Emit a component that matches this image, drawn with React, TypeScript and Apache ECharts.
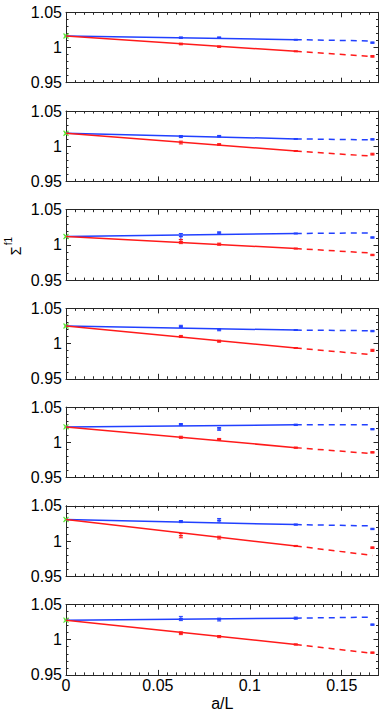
import React, { useEffect, useRef } from "react";
import * as echarts from "echarts";

// lattice spacings a/L
const xLattice = [0.0625, 0.0833, 0.125, 0.1667];
const xFitMid = 0.125;
const xFitEnd = 0.1667;

// continuum values at a/L = 0 (green)
const greenY = [1.0164, 1.0184, 1.0119, 1.025, 1.0219, 1.0305, 1.0277];
const greenErr = [0.0012, 0.0012, 0.0012, 0.0012, 0.0012, 0.0012, 0.0012];

// blue data
const blueY = [
  [1.014, 1.014, 1.0111, 1.0069],
  [1.0137, 1.0141, 1.0104, 1.0097],
  [1.0119, 1.0171, 1.0162, 1.0105],
  [1.0245, 1.0197, 1.0192, 1.0178],
  [1.0252, 1.019, 1.0248, 1.0186],
  [1.0276, 1.0295, 1.0233, 1.0171],
  [1.0301, 1.0286, 1.0306, 1.0214],
];
const blueErr = [
  [0.001, 0.001, 0.0005, 0.001],
  [0.0015, 0.0012, 0.0005, 0.001],
  [0.0043, 0.0015, 0.0005, 0.001],
  [0.0015, 0.0015, 0.0005, 0.001],
  [0.0015, 0.002, 0.001, 0.001],
  [0.0015, 0.0025, 0.0008, 0.001],
  [0.003, 0.002, 0.0015, 0.001],
];
const blueFitMid = [1.0111, 1.0104, 1.0162, 1.0192, 1.0248, 1.0233, 1.0306];
const blueFitEnd = [1.0093, 1.009, 1.0171, 1.0183, 1.0248, 1.0214, 1.032];

// red data
const redY = [
  [1.005, 1.0012, 0.9945, 0.9874],
  [1.0052, 1.0024, 0.9932, 0.9887],
  [1.0048, 1.001, 0.9948, 0.9857],
  [1.0101, 1.0034, 0.9938, 0.9904],
  [1.0071, 1.0043, 0.9924, 0.9857],
  [1.0076, 1.0048, 0.9929, 0.9905],
  [1.0092, 1.0044, 0.9932, 0.9816],
];
const redErr = [
  [0.0012, 0.001, 0.0005, 0.0012],
  [0.002, 0.0012, 0.0005, 0.0013],
  [0.003, 0.0015, 0.0005, 0.001],
  [0.0015, 0.0015, 0.0005, 0.0015],
  [0.0015, 0.0012, 0.0008, 0.001],
  [0.003, 0.002, 0.0008, 0.0012],
  [0.002, 0.0015, 0.0008, 0.001],
];
const redFitMid = [0.9945, 0.9932, 0.9948, 0.9938, 0.9924, 0.9929, 0.9932];
const redFitEnd = [0.9872, 0.9858, 0.9884, 0.9841, 0.9838, 0.9795, 0.9806];

const BLUE = "#2140ff";
const RED = "#ff1a1a";
const GREEN = "#5fe83a";
const AXIS = "#262626";
const FONT = "'Liberation Sans', Arial, Helvetica, sans-serif";

function errRender(color: string, cross: boolean) {
  return (params: any, api: any) => {
    const x = api.value(0);
    const y = api.value(1);
    const e = api.value(2);
    const p = api.coord([x, y]);
    const lo = api.coord([x, y - e]);
    const hi = api.coord([x, y + e]);
    const w = 2;
    const style = { stroke: color, lineWidth: 1 };
    const children: any[] = [
      { type: "line", shape: { x1: p[0], y1: hi[1], x2: p[0], y2: lo[1] }, style },
      { type: "line", shape: { x1: p[0] - w, y1: hi[1], x2: p[0] + w, y2: hi[1] }, style },
      { type: "line", shape: { x1: p[0] - w, y1: lo[1], x2: p[0] + w, y2: lo[1] }, style },
    ];
    if (cross) {
      children.push(
        { type: "line", shape: { x1: p[0] - 2.5, y1: p[1] - 2.5, x2: p[0] + 2.5, y2: p[1] + 2.5 }, style: { stroke: color, lineWidth: 1.2 } },
        { type: "line", shape: { x1: p[0] - 2.5, y1: p[1] + 2.5, x2: p[0] + 2.5, y2: p[1] - 2.5 }, style: { stroke: color, lineWidth: 1.2 } }
      );
    } else {
      children.push({ type: "line", shape: { x1: p[0] - w, y1: p[1], x2: p[0] + w, y2: p[1] }, style: { stroke: color, lineWidth: 1.5 } });
    }
    return { type: "group", children };
  };
}

export default function App() {
  const ref = useRef<HTMLDivElement>(null);
  useEffect(() => {
    if (!ref.current) return;
    const chart = echarts.init(ref.current, null, { renderer: "svg" });
    const n = greenY.length;
    const grids: any[] = [];
    const xAxes: any[] = [];
    const yAxes: any[] = [];
    const series: any[] = [];
    for (let i = 0; i < n; i++) {
      const top = 12.3 + i * 98.7;
      grids.push({ left: 66, right: 3.5, top, height: 70.4 });
      const last = i === n - 1;
      const baseX = {
        type: "value",
        gridIndex: i,
        min: 0,
        max: 0.17,
        splitLine: { show: false },
        axisLine: { show: true, onZero: false, lineStyle: { color: AXIS, width: 1 } },
      };
      // main bottom
      xAxes.push({
        ...baseX,
        interval: 0.05,
        position: "bottom",
        axisTick: { show: true, inside: true, length: 5, lineStyle: { color: AXIS } },
        axisLabel: {
          show: last,
          showMaxLabel: false,
          fontSize: 16,
          color: "#000",
          fontFamily: FONT,
          margin: 3,
        },
        name: last ? "a/L" : "",
        nameLocation: "middle",
        nameGap: 21,
        nameTextStyle: { fontSize: 16, color: "#000", fontFamily: FONT },
      });
      // top mirror
      xAxes.push({
        ...baseX,
        interval: 0.05,
        position: "top",
        axisTick: { show: true, inside: true, length: 5, lineStyle: { color: AXIS } },
        axisLabel: { show: false },
      });
      // minor ticks bottom
      xAxes.push({
        ...baseX,
        interval: 0.005,
        position: "bottom",
        axisLine: { show: false },
        axisTick: { show: true, inside: true, length: 2.5, lineStyle: { color: AXIS } },
        axisLabel: { show: false },
      });
      // minor ticks top
      xAxes.push({
        ...baseX,
        interval: 0.005,
        position: "top",
        axisLine: { show: false },
        axisTick: { show: true, inside: true, length: 2.5, lineStyle: { color: AXIS } },
        axisLabel: { show: false },
      });
      const baseY = {
        type: "value",
        gridIndex: i,
        min: 0.95,
        max: 1.05,
        interval: 0.05,
        splitLine: { show: false },
        axisLine: { show: true, onZero: false, lineStyle: { color: AXIS, width: 1 } },
        axisTick: { show: true, inside: true, length: 5, lineStyle: { color: AXIS } },
        minorTick: { show: true, splitNumber: 5, length: 2.5, lineStyle: { color: AXIS } },
      };
      yAxes.push({
        ...baseY,
        position: "left",
        axisLabel: { show: true, fontSize: 16, color: "#000", fontFamily: FONT, margin: 4 },
      });
      yAxes.push({ ...baseY, position: "right", axisLabel: { show: false } });

      const xi = i * 4;
      const yi = i * 2;
      const lineSeries = (data: number[][], color: string, dashed: boolean) => ({
        type: "line",
        xAxisIndex: xi,
        yAxisIndex: yi,
        data,
        symbol: "none",
        silent: true,
        lineStyle: { color, width: 1.5, type: dashed ? [6, 5] : "solid" },
      });
      series.push(lineSeries([[0, greenY[i]], [xFitMid, blueFitMid[i]]], BLUE, false));
      series.push(lineSeries([[xFitMid, blueFitMid[i]], [xFitEnd, blueFitEnd[i]]], BLUE, true));
      series.push(lineSeries([[0, greenY[i]], [xFitMid, redFitMid[i]]], RED, false));
      series.push(lineSeries([[xFitMid, redFitMid[i]], [xFitEnd, redFitEnd[i]]], RED, true));
      series.push({
        type: "custom",
        xAxisIndex: xi,
        yAxisIndex: yi,
        renderItem: errRender(BLUE, false),
        data: xLattice.map((x, k) => [x, blueY[i][k], blueErr[i][k]]),
        encode: { x: 0, y: 1 },
        clip: false,
      });
      series.push({
        type: "custom",
        xAxisIndex: xi,
        yAxisIndex: yi,
        renderItem: errRender(RED, false),
        data: xLattice.map((x, k) => [x, redY[i][k], redErr[i][k]]),
        encode: { x: 0, y: 1 },
        clip: false,
      });
      series.push({
        type: "custom",
        xAxisIndex: xi,
        yAxisIndex: yi,
        renderItem: errRender(GREEN, true),
        data: [[0, greenY[i], greenErr[i]]],
        encode: { x: 0, y: 1 },
        clip: false,
      });
    }
    chart.setOption({
      animation: false,
      backgroundColor: "#fff",
      grid: grids,
      xAxis: xAxes,
      yAxis: yAxes,
      series,
      graphic: [
        {
          type: "text",
          x: 16,
          y: 251,
          rotation: Math.PI / 2,
          style: { text: "Σ", fontSize: 14, fontFamily: FONT, fill: "#000", align: "center", verticalAlign: "middle" },
        },
        {
          type: "text",
          x: 8,
          y: 241,
          rotation: Math.PI / 2,
          style: { text: "f1", fontSize: 10, fontFamily: FONT, fill: "#000", align: "center", verticalAlign: "middle" },
        },
      ],
    });
    return () => chart.dispose();
  }, []);
  return (
    <div
      ref={ref}
      style={{ position: "fixed", left: 0, top: 0, width: 382, height: 716, background: "#fff" }}
    />
  );
}
